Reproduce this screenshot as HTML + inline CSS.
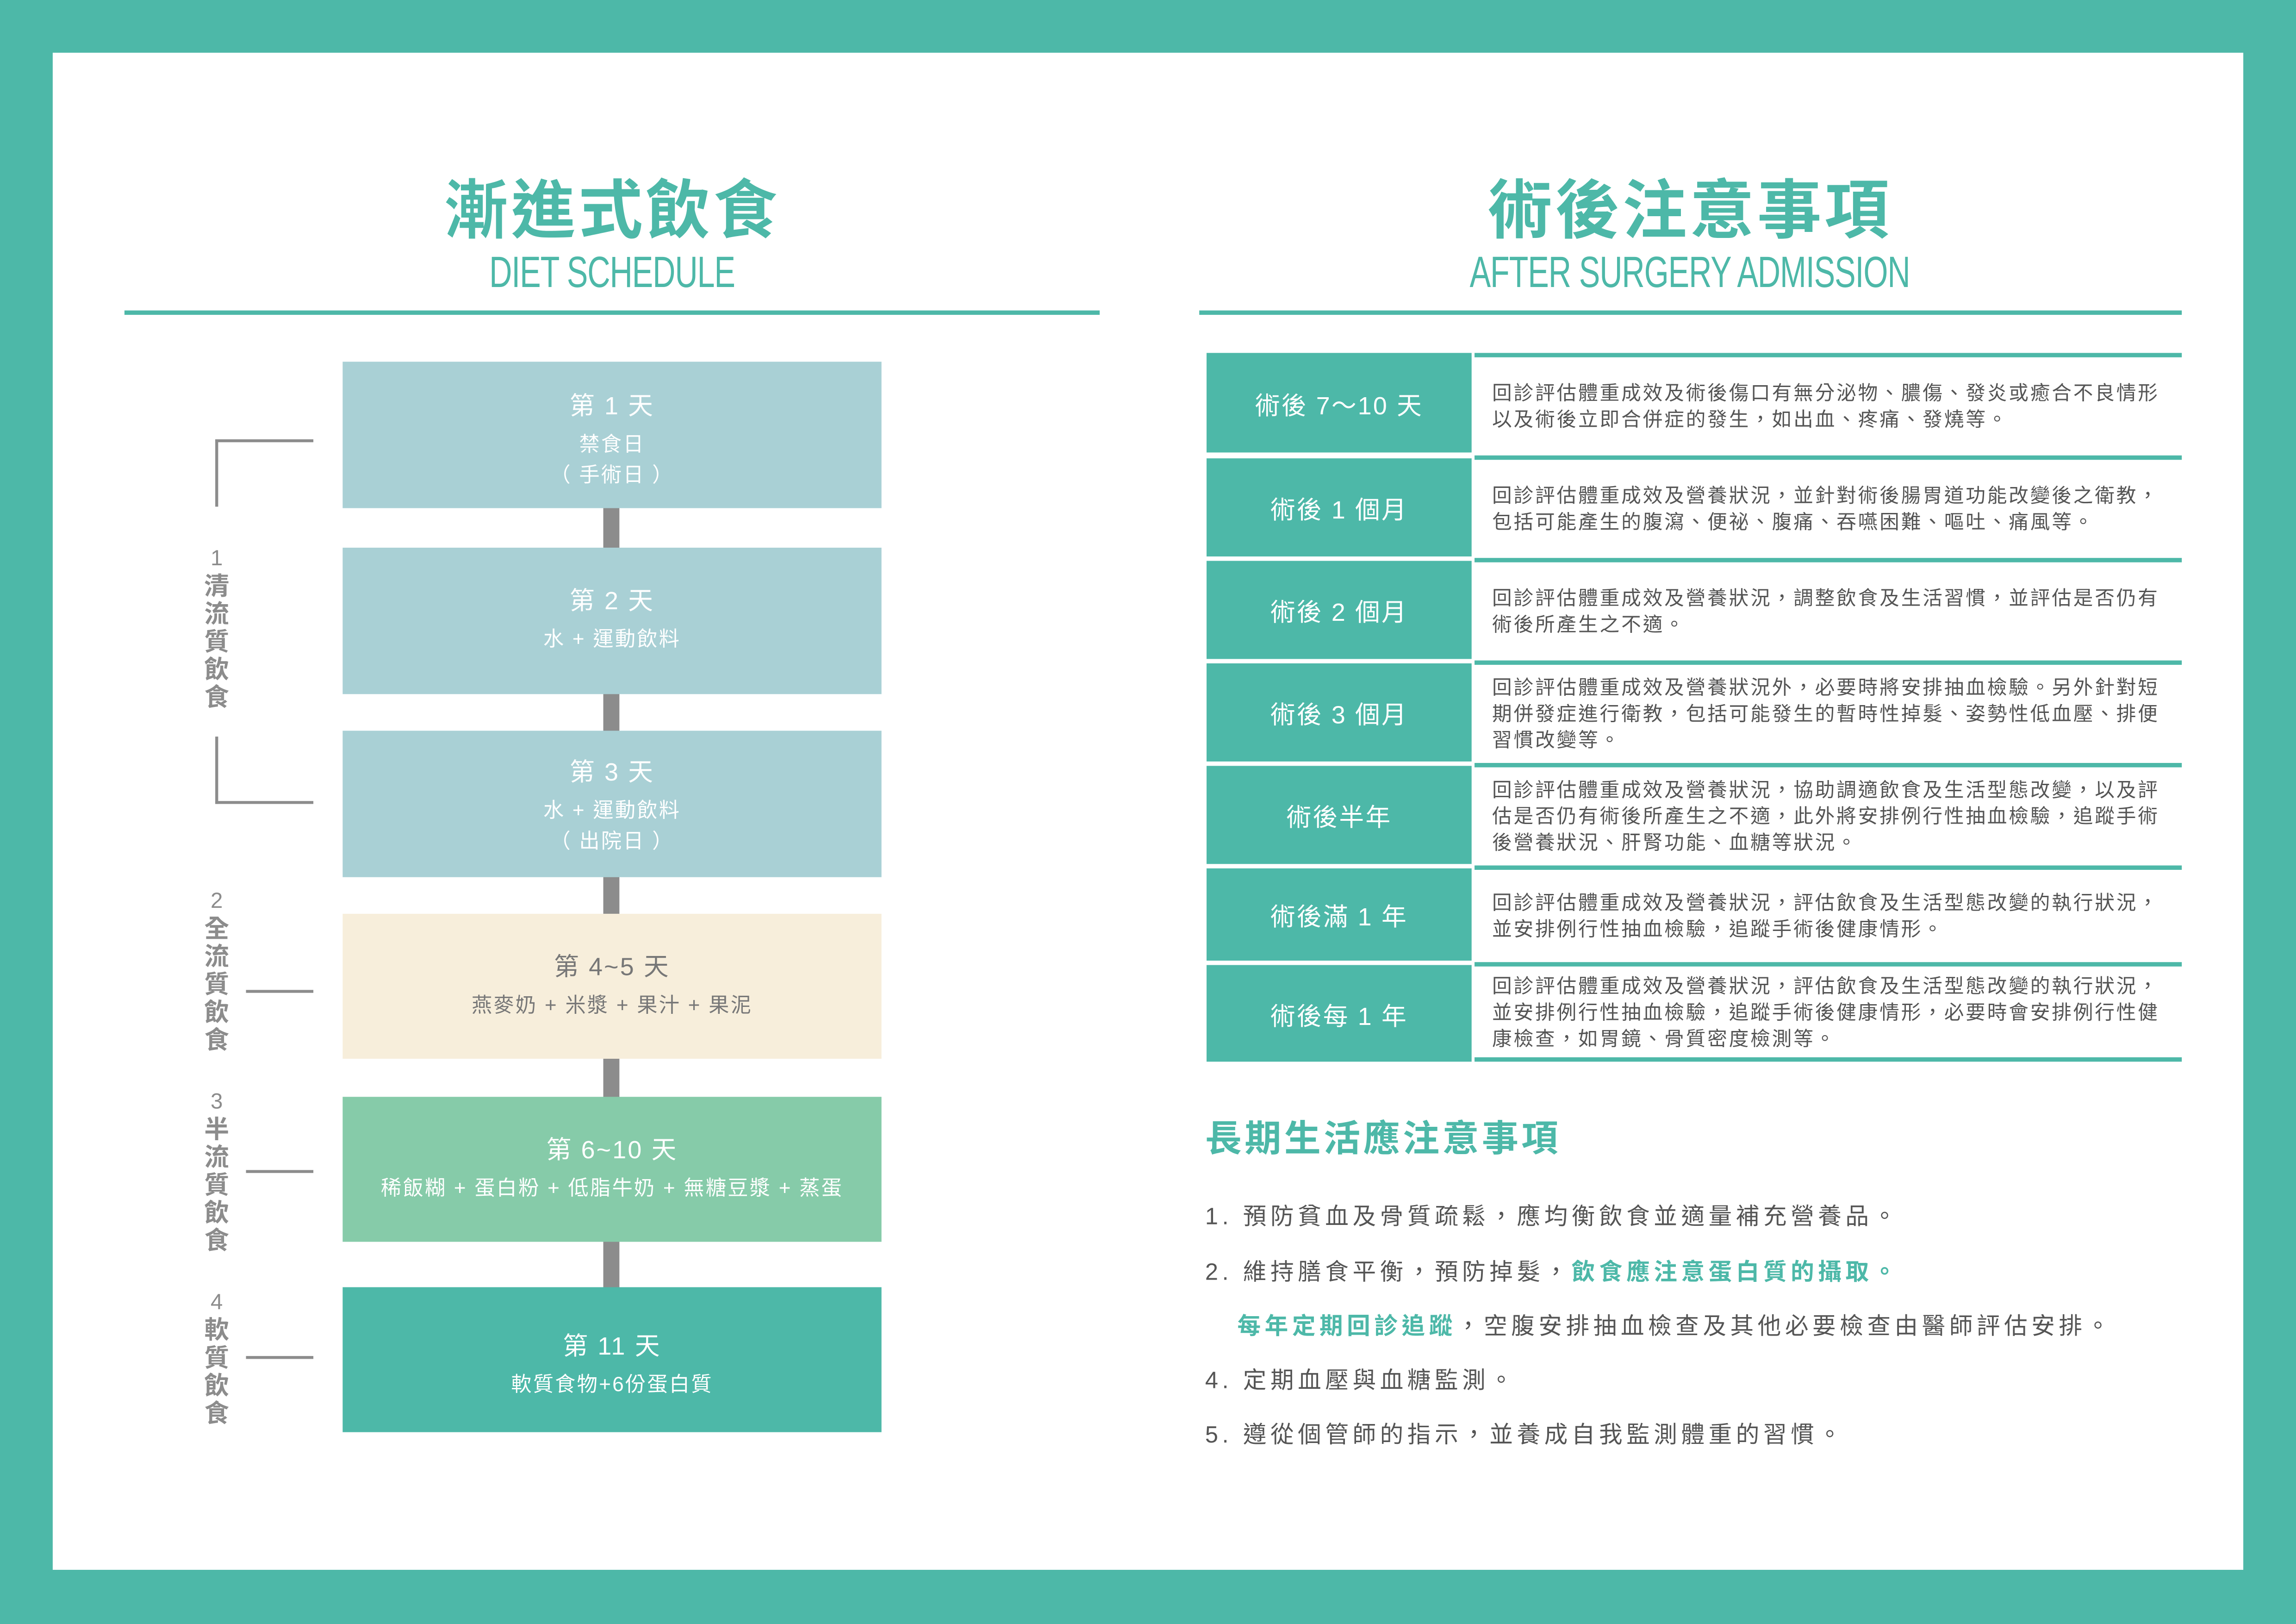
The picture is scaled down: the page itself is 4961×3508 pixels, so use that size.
<!DOCTYPE html>
<html><head><meta charset="utf-8">
<style>
html,body{margin:0;padding:0;width:4961px;height:3508px;overflow:hidden;background:#4db8a8}
#s{position:absolute;left:0;top:0;width:1568px;height:1109px;transform:scale(3.16390,3.16321);transform-origin:0 0;font-family:"Liberation Sans","Noto Sans CJK TC",sans-serif}
.a{position:absolute}
.w{background:#fff}
.t{color:#4db8a8}
.box{position:absolute;left:234px;width:368px;height:100px;color:#fff;text-align:center;box-sizing:border-box}
.box .h{font-size:17px;margin-top:16px;letter-spacing:1px}
.box .s{font-size:14px;line-height:21px;margin-top:5px;letter-spacing:1px}
.con{position:absolute;left:412px;width:11px;background:#8c8c8c}
.g{background:#8c8c8c;position:absolute}
.vl{position:absolute;left:138px;width:20px;text-align:center;color:#8c8c8c;font-size:17px;line-height:19px;font-weight:bold}
.lc{position:absolute;left:824px;width:181px;background:#4db8a8;color:#fff;font-size:17px;display:flex;align-items:center;justify-content:center;letter-spacing:1px}
.rc{position:absolute;left:1007px;width:483px;border-top:3px solid #4db8a8;box-sizing:border-box;color:#555;font-size:13.5px;line-height:18px;display:flex;align-items:center;padding-left:12px;padding-right:14px;letter-spacing:1.2px}
.li{position:absolute;left:823px;font-size:16px;color:#555;letter-spacing:2.7px;white-space:nowrap}
</style></head><body>
<div id="s">
<div class="a w" style="left:36px;top:36px;width:1496px;height:1036px"></div>

<div class="a t" style="left:218px;width:400px;top:108px;text-align:center;font-size:44px;font-weight:bold;letter-spacing:2px">漸進式飲食</div>
<div class="a t" style="left:218px;width:400px;top:170px;text-align:center;font-size:30px;transform:scaleX(0.72);letter-spacing:-0.5px">DIET SCHEDULE</div>
<div class="a" style="left:85px;top:212px;width:666px;height:3px;background:#4db8a8"></div>

<div class="a t" style="left:900px;width:508px;top:108px;text-align:center;font-size:44px;font-weight:bold;letter-spacing:2px">術後注意事項</div>
<div class="a t" style="left:854px;width:600px;top:170px;text-align:center;font-size:30px;transform:scaleX(0.72);letter-spacing:-0.5px">AFTER SURGERY ADMISSION</div>
<div class="a" style="left:819px;top:212px;width:671px;height:3px;background:#4db8a8"></div>

<!-- boxes -->
<div class="con" style="top:346px;height:28px"></div>
<div class="con" style="top:472px;height:28px"></div>
<div class="con" style="top:597px;height:28px"></div>
<div class="con" style="top:722px;height:28px"></div>
<div class="con" style="top:847px;height:33px"></div>
<div class="box" style="top:247px;background:#a9d0d5"><div class="h">第 1 天</div><div class="s">禁食日<br>（ 手術日 ）</div></div>
<div class="box" style="top:374px;background:#a9d0d5"><div class="h" style="margin-top:22px">第 2 天</div><div class="s">水 + 運動飲料</div></div>
<div class="box" style="top:499px;background:#a9d0d5"><div class="h" style="margin-top:14px">第 3 天</div><div class="s">水 + 運動飲料<br>（ 出院日 ）</div></div>
<div class="box" style="top:624px;height:99px;background:#f7eedb;color:#777"><div class="h" style="margin-top:22px">第 4~5 天</div><div class="s">燕麥奶 + 米漿 + 果汁 + 果泥</div></div>
<div class="box" style="top:749px;height:99px;background:#86cba9"><div class="h" style="margin-top:22px">第 6~10 天</div><div class="s">稀飯糊 + 蛋白粉 + 低脂牛奶 + 無糖豆漿 + 蒸蛋</div></div>
<div class="box" style="top:879px;height:99px;background:#4db8a8"><div class="h" style="margin-top:26px">第 11 天</div><div class="s">軟質食物+6份蛋白質</div></div>

<!-- brackets -->
<div class="g" style="left:147px;top:300px;width:67px;height:2px"></div>
<div class="g" style="left:147px;top:300px;width:2px;height:46px"></div>
<div class="g" style="left:147px;top:503px;width:2px;height:46px"></div>
<div class="g" style="left:147px;top:547px;width:67px;height:2px"></div>
<div class="g" style="left:168px;top:676px;width:46px;height:1.5px"></div>
<div class="g" style="left:168px;top:799px;width:46px;height:1.5px"></div>
<div class="g" style="left:168px;top:926px;width:46px;height:1.5px"></div>
<div class="vl" style="top:371px"><span style="font-weight:normal;font-size:15px">1</span><br>清<br>流<br>質<br>飲<br>食</div>
<div class="vl" style="top:605px"><span style="font-weight:normal;font-size:15px">2</span><br>全<br>流<br>質<br>飲<br>食</div>
<div class="vl" style="top:742px"><span style="font-weight:normal;font-size:15px">3</span><br>半<br>流<br>質<br>飲<br>食</div>
<div class="vl" style="top:879px"><span style="font-weight:normal;font-size:15px">4</span><br>軟<br>質<br>飲<br>食</div>

<!-- table -->
<div class="lc" style="top:241px;height:68px">術後 7～10 天</div>
<div class="lc" style="top:313px;height:67px">術後 1 個月</div>
<div class="lc" style="top:383px;height:67px">術後 2 個月</div>
<div class="lc" style="top:453px;height:67px">術後 3 個月</div>
<div class="lc" style="top:523px;height:67px">術後半年</div>
<div class="lc" style="top:593px;height:63px">術後滿 1 年</div>
<div class="lc" style="top:659px;height:66px">術後每 1 年</div>

<div class="rc" style="top:241px;height:70px">回診評估體重成效及術後傷口有無分泌物、膿傷、發炎或癒合不良情形以及術後立即合併症的發生，如出血、疼痛、發燒等。</div>
<div class="rc" style="top:311px;height:70px">回診評估體重成效及營養狀況，並針對術後腸胃道功能改變後之衛教，包括可能產生的腹瀉、便祕、腹痛、吞嚥困難、嘔吐、痛風等。</div>
<div class="rc" style="top:381px;height:70px">回診評估體重成效及營養狀況，調整飲食及生活習慣，並評估是否仍有術後所產生之不適。</div>
<div class="rc" style="top:451px;height:70px">回診評估體重成效及營養狀況外，必要時將安排抽血檢驗。另外針對短期併發症進行衛教，包括可能發生的暫時性掉髮、姿勢性低血壓、排便習慣改變等。</div>
<div class="rc" style="top:521px;height:70px">回診評估體重成效及營養狀況，協助調適飲食及生活型態改變，以及評估是否仍有術後所產生之不適，此外將安排例行性抽血檢驗，追蹤手術後營養狀況、肝腎功能、血糖等狀況。</div>
<div class="rc" style="top:591px;height:66px">回診評估體重成效及營養狀況，評估飲食及生活型態改變的執行狀況，並安排例行性抽血檢驗，追蹤手術後健康情形。</div>
<div class="rc" style="top:657px;height:66px">回診評估體重成效及營養狀況，評估飲食及生活型態改變的執行狀況，並安排例行性抽血檢驗，追蹤手術後健康情形，必要時會安排例行性健康檢查，如胃鏡、骨質密度檢測等。</div>
<div class="a" style="left:1007px;top:722px;width:483px;height:3px;background:#4db8a8"></div>

<div class="a t" style="left:823px;top:758px;font-size:25px;font-weight:bold;letter-spacing:2px">長期生活應注意事項</div>
<div class="li" style="top:817px">1. 預防貧血及骨質疏鬆，應均衡飲食並適量補充營養品。</div>
<div class="li" style="top:855px">2. 維持膳食平衡，預防掉髮，<span class="t" style="font-weight:bold">飲食應注意蛋白質的攝取。</span></div>
<div class="li" style="top:892px;left:845px"><span class="t" style="font-weight:bold">每年定期回診追蹤</span>，空腹安排抽血檢查及其他必要檢查由醫師評估安排。</div>
<div class="li" style="top:929px">4. 定期血壓與血糖監測。</div>
<div class="li" style="top:966px">5. 遵從個管師的指示，並養成自我監測體重的習慣。</div>
</div>
</body></html>
